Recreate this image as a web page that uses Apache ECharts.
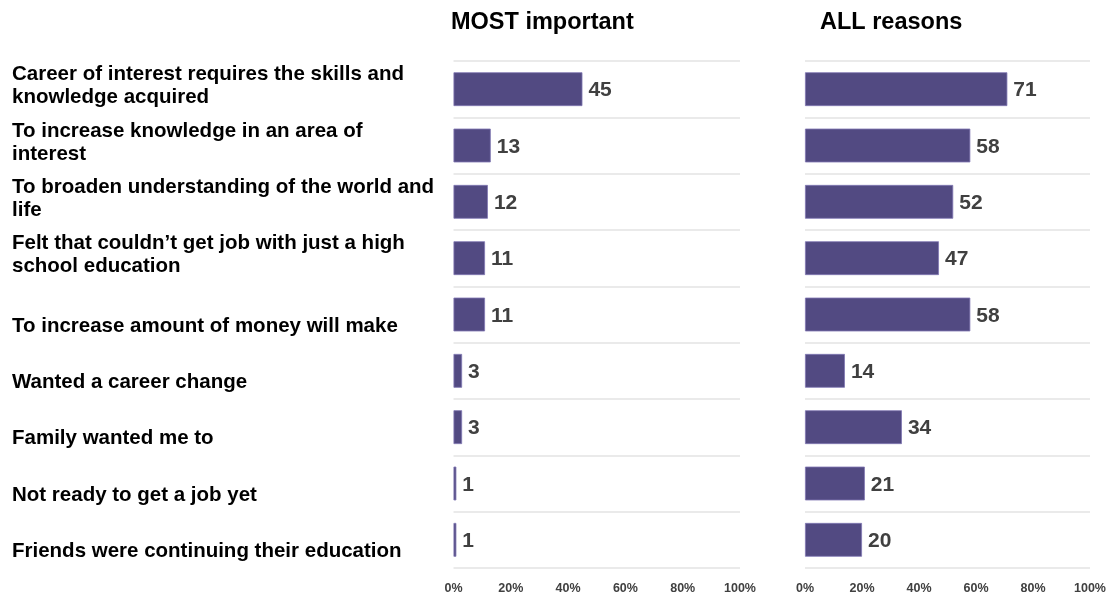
<!DOCTYPE html>
<html>
<head>
<meta charset="utf-8">
<style>
  html, body { margin: 0; padding: 0; background: #fff; }
  #chart { width: 1111px; height: 597px; }
</style>
<script src="https://cdn.jsdelivr.net/npm/echarts@6/dist/echarts.min.js"></script>
</head>
<body>
<div id="chart"></div>
<script>
// Reasons for continuing education (share of respondents, %)
const reasons = [
  'Career of interest requires the skills and\nknowledge acquired',
  'To increase knowledge in an area of\ninterest',
  'To broaden understanding of the world and\nlife',
  'Felt that couldn\u2019t get job with just a high\nschool education',
  'To increase amount of money will make',
  'Wanted a career change',
  'Family wanted me to',
  'Not ready to get a job yet',
  'Friends were continuing their education'
];
const mostImportant = [45, 13, 12, 11, 11, 3, 3, 1, 1];
const allReasons = [71, 58, 52, 47, 58, 14, 34, 21, 20];
const panelTitles = ['MOST important', 'ALL reasons'];
const pctTicks = [0, 20, 40, 60, 80, 100];

const FONT = 'Arial';
const BAR = '#524a82';
const GRID_LINE = '#e3e3e3';
const TEXT_GRAY = '#404040';

const chart = echarts.init(document.getElementById('chart'), null, { renderer: 'canvas' });

function valueAxis(gridIndex) {
  return {
    type: 'value',
    gridIndex,
    min: pctTicks[0],
    max: pctTicks[pctTicks.length - 1],
    interval: pctTicks[1] - pctTicks[0],
    axisLine: { show: false },
    axisTick: { show: false },
    splitLine: { show: false },
    axisLabel: {
      formatter: '{value}%',
      fontFamily: FONT,
      fontSize: 12.5,
      fontWeight: 'bold',
      color: TEXT_GRAY,
      margin: 14
    }
  };
}

function categoryAxis(gridIndex, showLabels) {
  return {
    type: 'category',
    gridIndex,
    data: reasons,
    inverse: true,
    axisLine: { show: false },
    axisTick: { show: false },
    splitLine: { show: true, lineStyle: { color: GRID_LINE, width: 1.5 } },
    axisLabel: {
      show: showLabels,
      align: 'left',
      margin: 441.5,
      fontFamily: FONT,
      fontSize: 20.5,
      fontWeight: 'bold',
      color: '#000',
      lineHeight: 23,
      // two-line labels get a thin spacer below; single-line labels sit on the lower line
      formatter: (v) => (v.indexOf('\n') < 0 ? '\n' + v : v + '\n{e| }'),
      rich: { e: { fontSize: 1, lineHeight: 6 } }
    }
  };
}

function barSeries(idx, data) {
  return {
    type: 'bar',
    xAxisIndex: idx,
    yAxisIndex: idx,
    data,
    barCategoryGap: '40%',
    itemStyle: { color: BAR, borderColor: '#8077b3', borderWidth: 0.8 },
    label: {
      show: true,
      position: 'right',
      distance: 6,
      fontFamily: FONT,
      fontSize: 21,
      fontWeight: 'bold',
      color: TEXT_GRAY,
      offset: [0, 1.5]
    },
    silent: true
  };
}

chart.setOption({
  animation: false,
  backgroundColor: '#fff',
  title: [
    { text: panelTitles[0], left: 451, top: 11, padding: 0,
      textStyle: { fontFamily: FONT, fontSize: 23.5, fontWeight: 'bold', color: '#000' } },
    { text: panelTitles[1], left: 820, top: 11, padding: 0,
      textStyle: { fontFamily: FONT, fontSize: 23.5, fontWeight: 'bold', color: '#000' } }
  ],
  grid: [
    { left: 453.5, width: 286.5, top: 61, height: 507 },
    { left: 805, width: 285, top: 61, height: 507 }
  ],
  xAxis: [valueAxis(0), valueAxis(1)],
  yAxis: [categoryAxis(0, true), categoryAxis(1, false)],
  series: [barSeries(0, mostImportant), barSeries(1, allReasons)]
});
</script>
</body>
</html>
